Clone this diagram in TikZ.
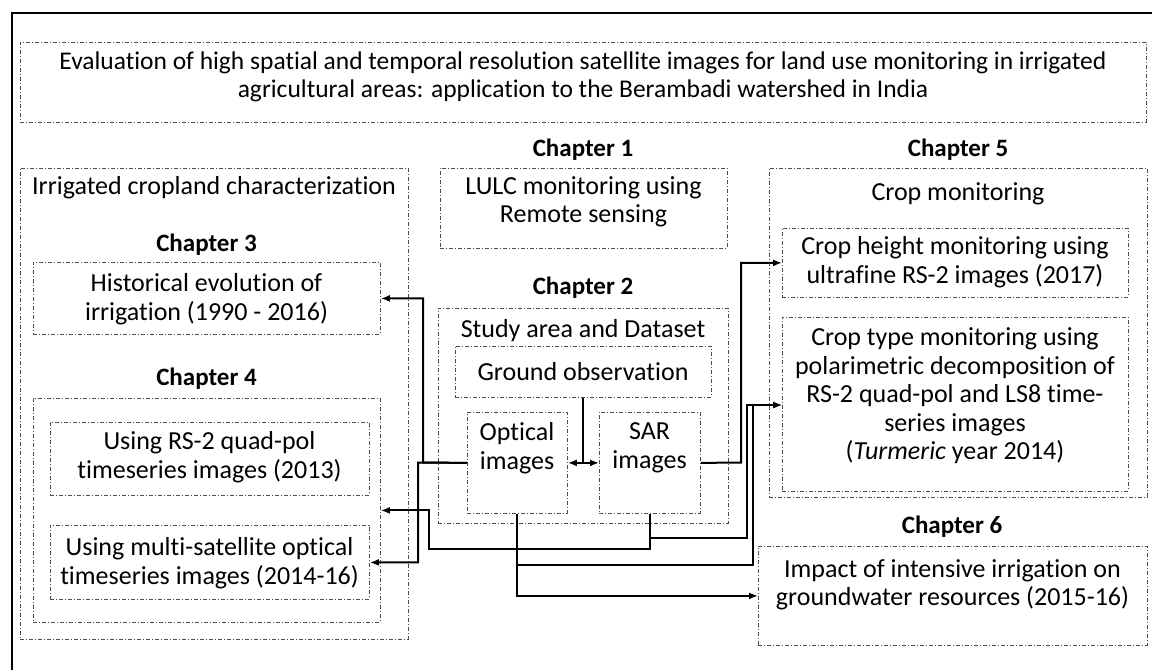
\documentclass[tikz,border=0pt]{standalone}
\usepackage{fontspec}
\setmainfont{Carlito}[Ligatures={NoCommon}]
\usetikzlibrary{arrows.meta}
\begin{document}
\begin{tikzpicture}[x=1pt,y=-1pt,
  box/.style={draw=black!70, line width=0.8pt, dash pattern=on 4pt off 2pt on 1pt off 2pt,
              inner sep=0pt, anchor=north west},
  txt/.style={align=center, font=\fontsize{26}{28.5}\selectfont, inner sep=0pt},
  headtxt/.style={align=center, font=\fontsize{25.5}{28.5}\selectfont, inner sep=0pt},
  chap/.style={font=\fontsize{25}{28}\selectfont\bfseries, inner sep=0pt},
  link/.style={line width=2pt, -{Latex[length=9pt,width=7pt]}},
  wire/.style={line width=2pt},
]
\useasboundingbox (0,0) rectangle (1152,670);

% outer frame (top and left edges)
\coordinate (frameTR) at (1152,13);
\coordinate (frameTL) at (12,13);
\coordinate (frameBL) at (12,670);
\draw[line width=1.4pt] (frameTR) -- (frameTL) -- (frameBL);

% thesis title
\node[box, minimum width=1126pt, minimum height=80pt] (titlebox) at (20,42) {};
\node[headtxt] (titletext) at (583,77) {Evaluation of high spatial and temporal resolution satellite images for land use monitoring in irrigated\\agricultural areas: application to the Berambadi watershed in India};

% chapter headings
\node[chap] (chap1) at (583,150) {Chapter 1};
\node[chap] (chap5) at (958,150) {Chapter 5};
\node[chap] (chap3) at (206.5,245) {Chapter 3};
\node[chap] (chap4) at (206.5,379) {Chapter 4};
\node[chap] (chap2) at (583,288) {Chapter 2};
\node[chap] (chap6) at (952,527) {Chapter 6};

% left column: irrigated cropland characterization
\node[box, minimum width=388pt, minimum height=471pt] (leftbox) at (20,168) {};
\node[txt] (lefttitle) at (214,188) {Irrigated cropland characterization};
\node[box, minimum width=347pt, minimum height=72pt] (ch3box) at (33,262) {};
\node[txt] (ch3text) at (206.5,299) {Historical evolution of\\irrigation (1990 - 2016)};
\node[box, minimum width=347pt, minimum height=224pt] (ch4box) at (33,398) {};
\node[box, minimum width=319pt, minimum height=73pt] (box1) at (50,422) {};
\node[txt] (box1text) at (209.5,457) {Using RS-2 quad-pol\\timeseries images (2013)};
\node[box, minimum width=319pt, minimum height=74pt] (box2) at (50,525) {};
\node[txt] (box2text) at (209.5,563) {Using multi-satellite optical\\timeseries images (2014-16)};

% centre column: chapters 1 and 2
\node[box, minimum width=287pt, minimum height=80pt] (ch1box) at (440,168) {};
\node[txt] (ch1text) at (583.5,202) {LULC monitoring using\\Remote sensing};
\node[box, minimum width=290pt, minimum height=215pt] (ch2box) at (438,308) {};
\node[txt] (ch2title) at (583,331) {Study area and Dataset};
\node[box, minimum width=256pt, minimum height=51pt] (ground) at (455,346) {};
\node[txt] (groundtext) at (583,372) {Ground observation};
\node[box, minimum width=100pt, minimum height=101pt] (optical) at (467,412) {};
\node[txt] (opticaltext) at (517,448) {Optical\\images};
\node[box, minimum width=101pt, minimum height=101pt] (sar) at (599,412) {};
\node[txt] (sartext) at (649.5,448) {SAR\\images};

% right column: crop monitoring and groundwater
\node[box, minimum width=378pt, minimum height=329pt] (ch5box) at (769,168) {};
\node[txt] (ch5title) at (958,194) {Crop monitoring};
\node[box, minimum width=346pt, minimum height=69pt] (cropheight) at (782,228) {};
\node[txt] (cropheighttext) at (955,262) {Crop height monitoring using\\ultrafine RS-2 images (2017)};
\node[box, minimum width=346pt, minimum height=174pt] (croptype) at (782,317) {};
\node[txt] (croptypetext) at (955,396) {Crop type monitoring using\\polarimetric decomposition of\\RS-2 quad-pol and LS8 time-\\series images\\(\textit{Turmeric} year 2014)};
\node[box, minimum width=389pt, minimum height=99pt] (ch6box) at (758,546) {};
\node[txt] (ch6text) at (952.5,585) {Impact of intensive irrigation on\\groundwater resources (2015-16)};

% data flows
\draw[wire] (ground.south) -- (ground.south |- optical.east);
\draw[line width=2pt, {Latex[length=9pt,width=7pt]}-{Latex[length=9pt,width=7pt]}] (optical.east) -- (sar.west);
\draw[link] (optical.west) -- (423,462.5) |- (ch3box.east);
\draw[link] (optical.west) -- (418,462.5) |- (box2.east);
\draw[link] (sar.south) |- (429,549) |- (ch4box.east);
\draw[link] (sar.east) -- (741,462.5) |- (cropheight.west);
\draw[link] (sar.south) |- (747,538) |- (755,405) -- (croptype.west |- 0,405);
\draw[link] (optical.south) |- (753,565) |- (croptype.west |- 0,405);
\draw[link] (optical.south) |- (ch6box.west);
\end{tikzpicture}
\end{document}
